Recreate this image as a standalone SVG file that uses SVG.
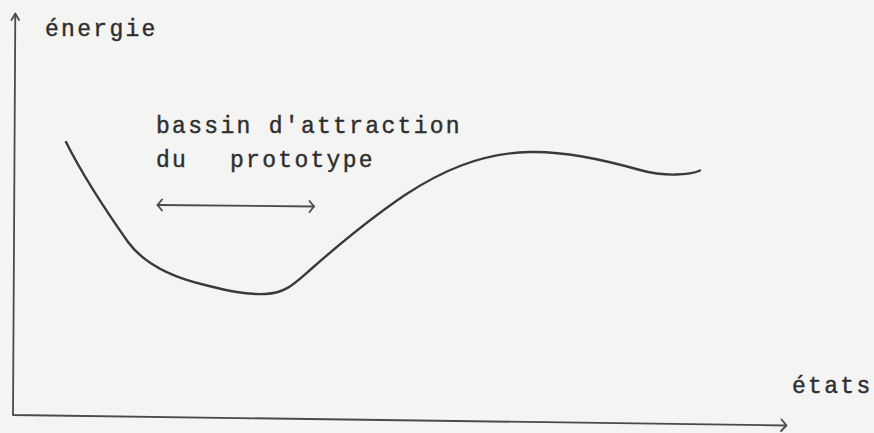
<svg xmlns="http://www.w3.org/2000/svg" width="874" height="433" viewBox="0 0 874 433">
<style>
.bg{fill:#f4f4f3}
.ax{fill:none;stroke:#4a4a4a;stroke-width:1.8;stroke-linecap:round;stroke-linejoin:round}
.crv{fill:none;stroke:#3a3a3a;stroke-width:2.4;stroke-linecap:round;stroke-linejoin:round}
.lbl{font-family:"Liberation Mono","Courier New",monospace;font-size:23px;letter-spacing:2.3px;fill:#2e2e2e;stroke:#2e2e2e;stroke-width:0.4}
</style>
<rect class="bg" x="0" y="0" width="874" height="433"/>
<g id="axes">
<path class="ax" d="M15.3,14 L13,415 L786,425.5"/>
<path class="ax" d="M11.5,20 L15.3,13.5 L19,20"/>
<path class="ax" d="M781.5,419.5 L786.5,425.5 L781,431"/>
</g>
<g id="label-energie"><text class="lbl" x="45" y="36">énergie</text></g>
<g id="label-etats"><text class="lbl" x="792" y="393">états</text></g>
<g id="label-bassin">
<text class="lbl" x="156" y="133">bassin d'attraction</text>
<text class="lbl" y="167"><tspan x="156">du</tspan><tspan x="230">prototype</tspan></text>
</g>
<g id="connectors">
<path class="ax" d="M157.5,205 L314,206.5"/>
<path class="ax" d="M162,199.5 L157.5,205 L162,210.5"/>
<path class="ax" d="M309.5,201 L314,206.5 L309.5,212"/>
</g>
<g id="curve">
<path class="crv" d="M66,142 C80,170 104,208 128,242 C145,265 175,278 205,285 C225,290 245,295 265,294 C285,293 293,285 310,270 C335,248 365,222 405,195 C440,172 480,153 530,152 C565,151 605,160 640,170 C665,177 690,175 700,170.5"/>
</g>
</svg>
